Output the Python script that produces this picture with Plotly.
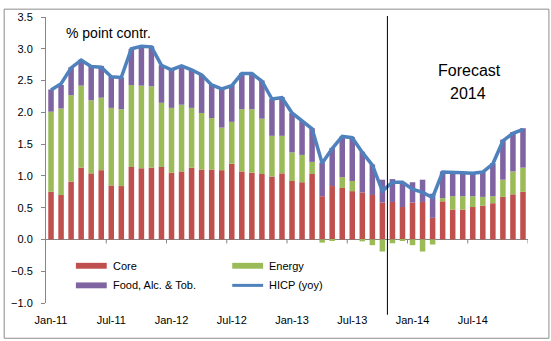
import plotly.graph_objects as go

# Monthly contributions to euro-area HICP inflation (percentage points), Jan-11 .. Dec-14
months = [f"{m}-{y}" for y in ["11", "12", "13", "14"]
          for m in ["Jan", "Feb", "Mar", "Apr", "May", "Jun",
                    "Jul", "Aug", "Sep", "Oct", "Nov", "Dec"]]

core = [0.75, 0.70, 0.91, 1.13, 1.04, 1.09, 0.85, 0.84, 1.14, 1.12, 1.13, 1.14,
        1.05, 1.07, 1.13, 1.10, 1.10, 1.09, 1.19, 1.07, 1.05, 1.03, 0.99, 1.04,
        0.92, 0.90, 1.03, 0.68, 0.84, 0.81, 0.76, 0.74, 0.70, 0.58, 0.59, 0.51,
        0.58, 0.59, 0.34, 0.60, 0.47, 0.47, 0.51, 0.53, 0.57, 0.67, 0.71, 0.75]

energy = [1.26, 1.36, 1.36, 1.29, 1.15, 1.14, 1.22, 1.21, 1.29, 1.30, 1.28, 1.01,
          1.02, 1.05, 0.94, 0.89, 0.81, 0.67, 0.66, 0.98, 1.00, 0.87, 0.64, 0.59,
          0.45, 0.43, 0.19, -0.05, -0.02, 0.17, 0.16, -0.03, -0.09, -0.19, -0.06, -0.02,
          -0.09, -0.19, -0.08, 0.05, 0.21, 0.21, 0.17, 0.14, 0.11, 0.27, 0.36, 0.38]

food = [0.35, 0.37, 0.44, 0.41, 0.55, 0.50, 0.49, 0.50, 0.57, 0.62, 0.63, 0.59,
        0.60, 0.60, 0.60, 0.60, 0.52, 0.61, 0.58, 0.57, 0.57, 0.60, 0.58, 0.61,
        0.62, 0.53, 0.53, 0.53, 0.60, 0.64, 0.69, 0.64, 0.48, 0.36, 0.36, 0.39,
        0.32, 0.35, 0.38, 0.42, 0.39, 0.37, 0.36, 0.39, 0.52, 0.63, 0.62, 0.62]

hicp = [2.35, 2.45, 2.70, 2.82, 2.72, 2.71, 2.56, 2.55, 3.00, 3.04, 3.03, 2.74,
        2.67, 2.73, 2.67, 2.59, 2.43, 2.37, 2.42, 2.61, 2.61, 2.49, 2.21, 2.23,
        1.99, 1.86, 1.74, 1.20, 1.43, 1.62, 1.60, 1.37, 1.17, 0.76, 0.90, 0.90,
        0.79, 0.74, 0.66, 1.06, 1.06, 1.05, 1.04, 1.06, 1.19, 1.55, 1.67, 1.73]

forecast_start = "Nov-13"

RED, GREEN, PURPLE, BLUE = "#C0504D", "#9BBB59", "#8064A2", "#4F81BD"
AXIS = "#868686"
FONT = "Liberation Sans, Arial, sans-serif"

W, H = 551, 341
ML, MR, MT, MB = 44, 23, 11, 38
PW, PH = W - ML - MR, H - MT - MB


def px_x(px):
    return (px - ML) / PW


def px_y(py):
    return (H - MB - py) / PH


x = list(range(len(months)))

fig = go.Figure()
series = [("Core", core, RED), ("Energy", energy, GREEN),
          ("Food, Alc. & Tob.", food, PURPLE)]
for name, vals, col in series:
    fig.add_trace(go.Bar(x=x, y=vals, name=name, marker_color=col,
                         marker_line_width=0, width=0.55, showlegend=False))
fig.add_trace(go.Scatter(x=x, y=hicp, name="HICP (yoy)", mode="lines",
                         line=dict(color=BLUE, width=3.5), showlegend=False))

shapes = []
# outer chart border
shapes.append(dict(type="rect", xref="paper", yref="paper",
                   x0=px_x(2), x1=px_x(549), y0=px_y(339), y1=px_y(3),
                   line=dict(color="#8C8C8C", width=1), fillcolor="rgba(0,0,0,0)"))
# tick marks on the zero axis, between half-year groups
for i in range(6, len(months) + 1, 6):
    shapes.append(dict(type="line", xref="x", yref="y", x0=i - 0.5, x1=i - 0.5,
                       ysizemode="pixel", yanchor=0, y0=0, y1=-4,
                       line=dict(color=AXIS, width=1)))
# forecast divider
fx = months.index(forecast_start) - 0.5
shapes.append(dict(type="line", xref="x", yref="paper", x0=fx, x1=fx,
                   y0=px_y(315), y1=px_y(10), line=dict(color="black", width=1)))

# legend keys
legend_items = [("Core", RED, "bar", 74, 265), ("Energy", GREEN, "bar", 231, 265),
                ("Food, Alc. & Tob.", PURPLE, "bar", 74, 285),
                ("HICP (yoy)", BLUE, "line", 231, 285)]
annotations = []
for label, col, kind, lx, ly in legend_items:
    if kind == "bar":
        shapes.append(dict(type="rect", xref="paper", yref="paper",
                           x0=px_x(lx), x1=px_x(lx + 31), y0=px_y(ly + 3), y1=px_y(ly - 3),
                           line=dict(width=0), fillcolor=col))
    else:
        shapes.append(dict(type="line", xref="paper", yref="paper",
                           x0=px_x(lx), x1=px_x(lx + 31), y0=px_y(ly), y1=px_y(ly),
                           line=dict(color=col, width=3)))
    annotations.append(dict(text=label, xref="paper", yref="paper",
                            x=px_x(lx + 35), y=px_y(ly), xanchor="left", yanchor="middle",
                            showarrow=False, font=dict(family=FONT, size=11, color="black")))

annotations.append(dict(text="% point contr.", xref="paper", yref="paper",
                        x=px_x(62), y=px_y(27), xanchor="left", yanchor="middle",
                        showarrow=False, font=dict(family=FONT, size=14, color="black")))
annotations.append(dict(text="Forecast", xref="paper", yref="paper",
                        x=px_x(469), y=px_y(66), xanchor="center", yanchor="middle",
                        showarrow=False, font=dict(family=FONT, size=16, color="black")))
annotations.append(dict(text="2014", xref="paper", yref="paper",
                        x=px_x(468), y=px_y(89), xanchor="center", yanchor="middle",
                        showarrow=False, font=dict(family=FONT, size=16, color="black")))

fig.update_layout(
    width=W, height=H,
    margin=dict(l=ML, r=MR, t=MT, b=MB, pad=0),
    paper_bgcolor="white", plot_bgcolor="white",
    barmode="relative", bargap=0.45,
    shapes=shapes, annotations=annotations,
    font=dict(family=FONT, size=11, color="black"),
    xaxis=dict(range=[-0.5, len(months) - 0.5], tickmode="array",
               tickvals=x[::6], ticktext=months[::6], ticks="",
               showline=False, showgrid=False, zeroline=False,
               ticklabelstandoff=9, tickfont=dict(size=11)),
    yaxis=dict(range=[-1.0, 3.5], dtick=0.5, tick0=0, tickformat=".1f",
               ticks="outside", ticklen=4, tickcolor=AXIS,
               showline=True, linecolor=AXIS, linewidth=1,
               showgrid=False, zeroline=True, zerolinecolor=AXIS, zerolinewidth=1,
               ticklabelstandoff=6, tickfont=dict(size=11)),
)

fig.write_html("out.html")
